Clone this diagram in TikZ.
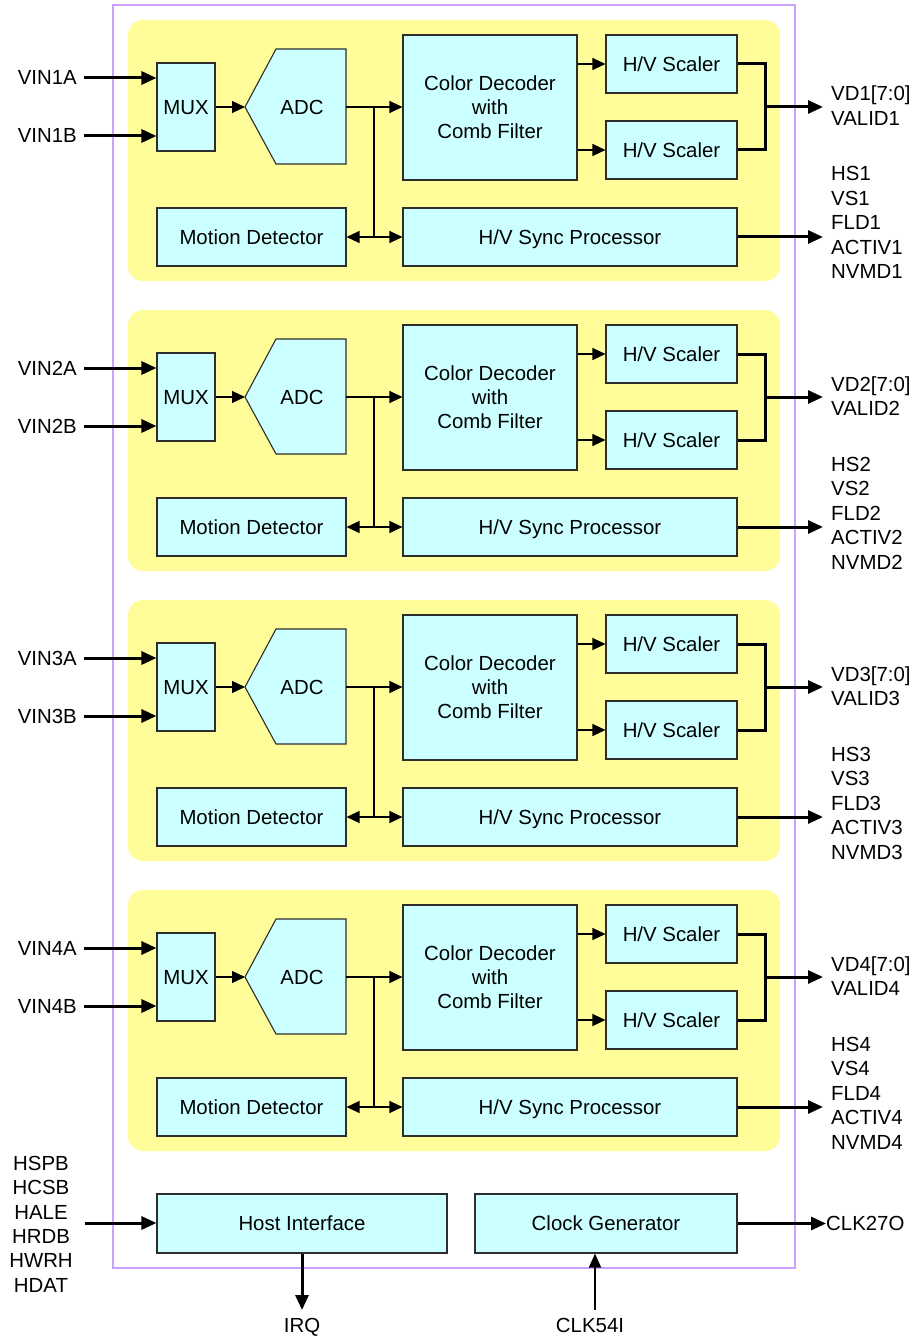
\documentclass[tikz,border=0pt]{standalone}
\usepackage{fontspec}
\setmainfont{Liberation Sans}
\usetikzlibrary{arrows.meta}
\definecolor{panelfill}{RGB}{255,253,153}
\definecolor{boxfill}{RGB}{204,255,255}
\definecolor{boxline}{RGB}{45,45,45}
\definecolor{purp}{RGB}{204,160,255}
\newcommand{\fsz}{\fontsize{20.4}{24}\selectfont}
\tikzset{
  box/.style={draw=boxline, fill=boxfill, line width=1.1pt, inner sep=0pt, font=\fsz, text height=14.6pt, text depth=0pt},
  mbox/.style={draw=boxline, fill=boxfill, line width=1.1pt, inner sep=0pt, font=\fsz, align=center},
  panel/.style={fill=panelfill, rounded corners=15pt, inner sep=0pt},
  lbl/.style={font=\fsz, inner sep=0pt},
  wthin/.style={line width=1.2pt, -{Triangle[length=13pt,width=12pt]}},
  wline/.style={line width=1.2pt},
  wmid/.style={line width=1.8pt, -{Triangle[length=14pt,width=12pt]}},
  wthick/.style={line width=3pt, -{Triangle[length=15pt,width=13pt]}},
  wthickline/.style={line width=3pt},
}
\begin{document}
\begin{tikzpicture}[x=1pt,y=-1pt]
\useasboundingbox (0,0) rectangle (914,1337);
\fill[white] (0,0) rectangle (914,1337);
\draw[draw=purp, line width=1.3pt] (113,5) rectangle (795,1268);
\foreach \k in {1,2,3,4} {
  \pgfmathsetmacro{\o}{290*(\k-1)}
  \node[panel, minimum width=652pt, minimum height=261pt] (pan\k) at (454,150.5+\o) {};
  % boxes
  \node[box, minimum width=58pt, minimum height=88pt] (mux\k) at (186,107+\o) {MUX};
  \draw[draw=boxline, fill=boxfill, line width=1.1pt] (245,107+\o) -- (276,49+\o) -- (346,49+\o) -- (346,164+\o) -- (276,164+\o) -- cycle;
  \node[lbl, text height=14.6pt, text depth=0pt] (adc\k) at (302,107+\o) {ADC};
  \coordinate (adcin\k) at (245,107+\o);
  \coordinate (adcout\k) at (346,107+\o);
  \node[mbox, minimum width=174pt, minimum height=145pt] (cd\k) at (490,107.5+\o) {Color Decoder\\with\\Comb Filter};
  \node[box, minimum width=131pt, minimum height=58pt] (sca\k) at (671.5,64+\o) {H/V Scaler};
  \node[box, minimum width=131pt, minimum height=58pt] (scb\k) at (671.5,150+\o) {H/V Scaler};
  \node[box, minimum width=189pt, minimum height=58pt] (md\k) at (251.5,237+\o) {Motion Detector};
  \node[box, minimum width=334pt, minimum height=58pt] (sp\k) at (570,237+\o) {H/V Sync Processor};
  % inputs
  \node[lbl, anchor=base east] (vina\k) at (77,85+\o) {VIN\k A};
  \node[lbl, anchor=base east] (vinb\k) at (77,143+\o) {VIN\k B};
  \coordinate (ina\k) at (84,78+\o);
  \coordinate (inb\k) at (84,136+\o);
  \draw[wthick] (ina\k) -- (ina\k -| mux\k.west);
  \draw[wthick] (inb\k) -- (inb\k -| mux\k.west);
  % internal
  \draw[wthin] (mux\k.east |- adcin\k) -- (adcin\k);
  \draw[wthin] (adcout\k) -- (adcout\k -| cd\k.west);
  \coordinate (ja\k) at (374,107+\o);
  \coordinate (jb\k) at (374,237+\o);
  \draw[wline] (ja\k) -- (jb\k);
  \draw[wthin] (jb\k) -- (md\k.east);
  \draw[wthin] (jb\k) -- (sp\k.west);
  \draw[wthin] (cd\k.east |- sca\k.west) -- (sca\k.west);
  \draw[wthin] (cd\k.east |- scb\k.west) -- (scb\k.west);
  % outputs
  \coordinate (ma\k) at (765,64+\o);
  \coordinate (mb\k) at (765,150+\o);
  \coordinate (mm\k) at (765,107+\o);
  \draw[wthickline] (sca\k.east) -- (ma\k) -- (mb\k) -- (scb\k.east);
  \coordinate (vdt\k) at (823,107+\o);
  \draw[wthick] (mm\k) -- (vdt\k);
  \coordinate (spt\k) at (823,237+\o);
  \draw[wthick] (sp\k.east) -- (spt\k);
  \node[lbl, anchor=base west] (vd\k) at (831,101+\o) {VD\k[7:0]};
  \node[lbl, anchor=base west] (val\k) at (831,125.5+\o) {VALID\k};
  \node[lbl, anchor=base west] (hs\k) at (831,181+\o) {HS\k};
  \node[lbl, anchor=base west] (vs\k) at (831,205.5+\o) {VS\k};
  \node[lbl, anchor=base west] (fld\k) at (831,230+\o) {FLD\k};
  \node[lbl, anchor=base west] (act\k) at (831,254.5+\o) {ACTIV\k};
  \node[lbl, anchor=base west] (nv\k) at (831,279+\o) {NVMD\k};
}
% bottom
\node[box, minimum width=290pt, minimum height=59pt] (host) at (302,1223.5) {Host Interface};
\node[box, minimum width=262pt, minimum height=59pt] (clk) at (606,1223.5) {Clock Generator};
\node[lbl, anchor=base] (hspb) at (41,1170) {HSPB};
\node[lbl, anchor=base] (hcsb) at (41,1194.5) {HCSB};
\node[lbl, anchor=base] (hale) at (41,1219) {HALE};
\node[lbl, anchor=base] (hrdb) at (41,1243) {HRDB};
\node[lbl, anchor=base] (hwrh) at (41,1267.5) {HWRH};
\node[lbl, anchor=base] (hdat) at (41,1292) {HDAT};
\coordinate (hin) at (85,1223);
\draw[wthick] (hin) -- (hin -| host.west);
\coordinate (irqt) at (302,1310);
\draw[wthick] (host.south) -- (irqt);
\node[lbl, anchor=base] (irq) at (302,1332) {IRQ};
\coordinate (c54) at (595,1310);
\draw[wmid] (c54) -- (c54 |- clk.south);
\node[lbl, anchor=base] (clk54) at (590,1332) {CLK54I};
\coordinate (c27) at (826,1223.5);
\draw[wthick] (clk.east) -- (c27);
\node[lbl, anchor=base west] (clk27) at (826,1230.5) {CLK27O};
\end{tikzpicture}
\end{document}
